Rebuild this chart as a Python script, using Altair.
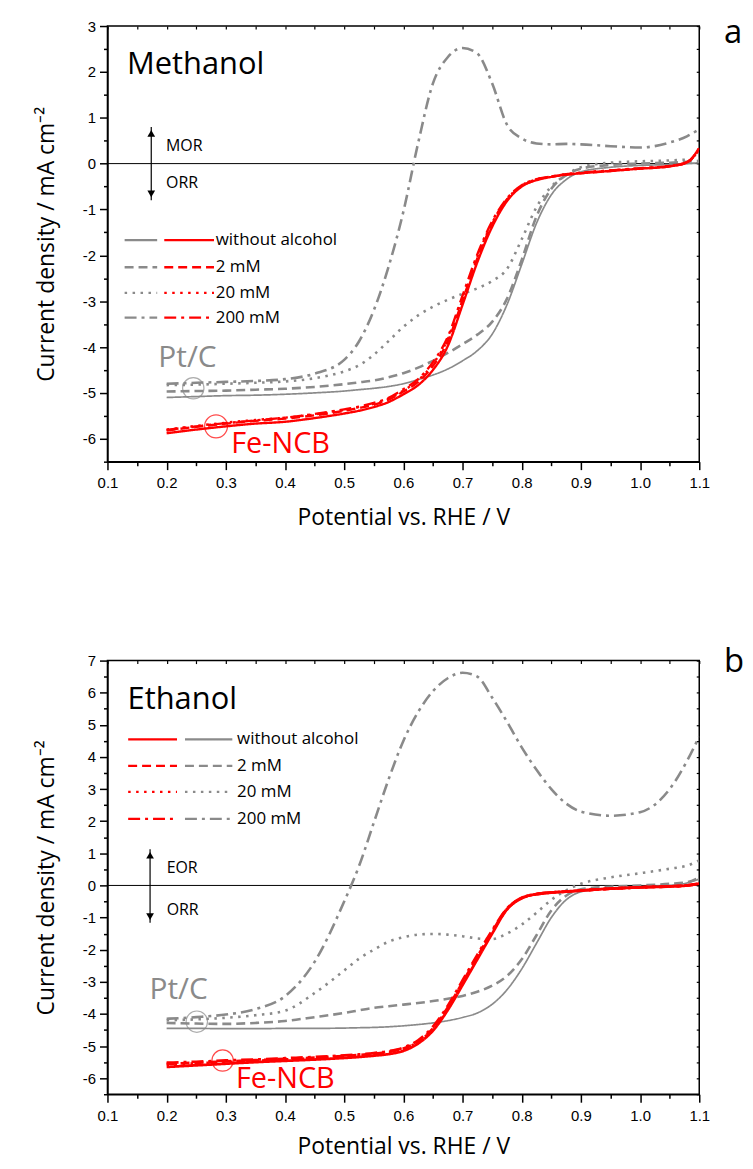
import altair as alt
import pandas as pd

# ---------------- data ----------------
CONCS = ["without alcohol", "2 mM", "20 mM", "200 mM"]
CATALYSTS = ["Pt/C", "Fe-NCB"]

POTENTIAL = [0.20, 0.25, 0.30, 0.35, 0.40, 0.45, 0.50, 0.525, 0.55, 0.575, 0.60, 0.625, 0.65, 0.675,
             0.70, 0.725, 0.75, 0.775, 0.80, 0.825, 0.85, 0.875, 0.90, 0.95, 1.00, 1.05, 1.08, 1.10]

# Methanol, Pt/C
MEOH_PT_0 = [-5.10, -5.08, -5.06, -5.05, -5.03, -5.00, -4.96, -4.93, -4.90, -4.86, -4.80, -4.71, -4.61, -4.48,
             -4.30, -4.08, -3.72, -3.08, -2.20, -1.30, -0.68, -0.35, -0.18, -0.08, -0.04, -0.02, 0.00, 0.02]
MEOH_PT_2 = [-4.97, -4.96, -4.95, -4.93, -4.91, -4.87, -4.81, -4.77, -4.73, -4.66, -4.57, -4.45, -4.30, -4.13,
             -3.94, -3.73, -3.45, -2.95, -2.10, -1.15, -0.55, -0.25, -0.11, -0.03, 0.00, 0.02, 0.04, 0.06]
MEOH_PT_20 = [-4.83, -4.82, -4.80, -4.78, -4.75, -4.68, -4.53, -4.40, -4.17, -3.87, -3.56, -3.31, -3.12, -2.97,
              -2.84, -2.72, -2.56, -2.30, -1.65, -0.95, -0.50, -0.25, -0.08, 0.02, 0.05, 0.07, 0.09, 0.12]
MEOH_PT_200 = [-4.80, -4.78, -4.76, -4.74, -4.70, -4.58, -4.28, -3.88, -3.20, -2.25, -1.05, 0.45, 1.75, 2.32,
               2.52, 2.40, 1.75, 0.85, 0.55, 0.44, 0.42, 0.43, 0.42, 0.38, 0.35, 0.46, 0.60, 0.75]
# Methanol, Fe-NCB
MEOH_FE_0 = [-5.88, -5.80, -5.73, -5.67, -5.63, -5.55, -5.45, -5.39, -5.31, -5.20, -5.03, -4.83, -4.50, -3.98,
             -3.08, -2.15, -1.38, -0.82, -0.50, -0.36, -0.29, -0.24, -0.21, -0.16, -0.11, -0.06, 0.03, 0.35]
MEOH_FE_2 = [-5.82, -5.74, -5.67, -5.61, -5.56, -5.49, -5.39, -5.33, -5.26, -5.15, -4.97, -4.76, -4.41, -3.88,
             -2.98, -2.07, -1.32, -0.79, -0.49, -0.35, -0.29, -0.24, -0.21, -0.16, -0.11, -0.06, 0.03, 0.33]
MEOH_FE_20 = [-5.80, -5.72, -5.65, -5.59, -5.54, -5.47, -5.37, -5.31, -5.24, -5.13, -4.95, -4.73, -4.37, -3.83,
              -2.93, -2.03, -1.29, -0.78, -0.48, -0.34, -0.28, -0.23, -0.20, -0.15, -0.10, -0.05, 0.04, 0.30]
MEOH_FE_200 = [-5.81, -5.73, -5.66, -5.60, -5.54, -5.46, -5.36, -5.30, -5.22, -5.11, -4.92, -4.70, -4.33, -3.78,
               -2.88, -1.98, -1.26, -0.76, -0.47, -0.34, -0.28, -0.23, -0.20, -0.15, -0.10, -0.05, 0.04, 0.30]

# Ethanol, Pt/C
ETOH_PT_0 = [-4.45, -4.45, -4.46, -4.46, -4.45, -4.45, -4.44, -4.43, -4.42, -4.40, -4.37, -4.33, -4.28, -4.21,
             -4.11, -3.97, -3.70, -3.25, -2.60, -1.80, -1.00, -0.45, -0.20, -0.08, -0.04, 0.00, 0.08, 0.20]
ETOH_PT_2 = [-4.28, -4.30, -4.31, -4.28, -4.22, -4.10, -3.97, -3.89, -3.81, -3.76, -3.71, -3.66, -3.60, -3.53,
             -3.44, -3.31, -3.12, -2.82, -2.30, -1.55, -0.78, -0.32, -0.12, -0.04, 0.00, 0.05, 0.10, 0.25]
ETOH_PT_20 = [-4.20, -4.17, -4.12, -4.04, -3.90, -3.35, -2.65, -2.28, -2.00, -1.75, -1.61, -1.53, -1.51, -1.53,
              -1.58, -1.65, -1.67, -1.50, -1.22, -0.85, -0.45, -0.15, 0.05, 0.25, 0.38, 0.52, 0.62, 0.78]
ETOH_PT_200 = [-4.15, -4.10, -4.02, -3.85, -3.45, -2.38, -0.50, 0.60, 1.95, 3.30, 4.50, 5.40, 6.05, 6.45,
               6.62, 6.50, 5.85, 5.10, 4.30, 3.60, 3.00, 2.55, 2.30, 2.17, 2.28, 3.00, 3.90, 4.64]
# Ethanol, Fe-NCB
ETOH_FE_0 = [-5.65, -5.60, -5.55, -5.50, -5.46, -5.42, -5.37, -5.34, -5.30, -5.25, -5.15, -4.92, -4.52, -3.88,
             -3.10, -2.30, -1.50, -0.75, -0.40, -0.27, -0.22, -0.19, -0.16, -0.10, -0.06, -0.03, 0.00, 0.06]
ETOH_FE_2 = [-5.55, -5.52, -5.48, -5.44, -5.40, -5.36, -5.31, -5.28, -5.24, -5.18, -5.08, -4.86, -4.45, -3.80,
             -3.02, -2.22, -1.44, -0.73, -0.39, -0.27, -0.22, -0.19, -0.16, -0.10, -0.06, -0.03, 0.00, 0.06]
ETOH_FE_20 = [-5.58, -5.54, -5.50, -5.46, -5.42, -5.38, -5.33, -5.30, -5.26, -5.20, -5.10, -4.87, -4.47, -3.82,
              -3.04, -2.24, -1.46, -0.74, -0.39, -0.27, -0.22, -0.19, -0.16, -0.10, -0.06, -0.03, 0.00, 0.06]
ETOH_FE_200 = [-5.52, -5.49, -5.45, -5.42, -5.38, -5.34, -5.29, -5.26, -5.22, -5.16, -5.05, -4.82, -4.40, -3.75,
               -2.96, -2.16, -1.40, -0.72, -0.38, -0.27, -0.22, -0.19, -0.16, -0.10, -0.06, -0.03, 0.00, 0.06]

X_MAJOR = [0.1, 0.2, 0.3, 0.4, 0.5, 0.6, 0.7, 0.8, 0.9, 1.0, 1.1]
X_MINOR = [0.15, 0.25, 0.35, 0.45, 0.55, 0.65, 0.75, 0.85, 0.95, 1.05]
MEOH_Y_MAJOR = [-6, -5, -4, -3, -2, -1, 0, 1, 2, 3]
MEOH_Y_MINOR = [-6.5, -5.5, -4.5, -3.5, -2.5, -1.5, -0.5, 0.5, 1.5, 2.5]
ETOH_Y_MAJOR = [-6, -5, -4, -3, -2, -1, 0, 1, 2, 3, 4, 5, 6, 7]
ETOH_Y_MINOR = [-6.5, -5.5, -4.5, -3.5, -2.5, -1.5, -0.5, 0.5, 1.5, 2.5, 3.5, 4.5, 5.5, 6.5]

# ---------------- styling ----------------
GRAY = "#8a8a8a"
RED = "#ff0000"
TEXT_FONT = "Open Sans"
TICK_FONT = "Liberation Sans"
PANEL_W = 595

X_SCALE = alt.Scale(domain=[0.1, 1.1], nice=False, zero=False)
COLOR_SCALE = alt.Scale(domain=CATALYSTS, range=[GRAY, RED])
DASH_SCALE = alt.Scale(domain=CONCS, range=[[1, 0], [9, 5], [2.5, 5.5], [12, 5, 3, 5]])


def curves_frame(series):
    rows = []
    for cat, conc, ys in series:
        for x, y in zip(POTENTIAL, ys):
            rows.append({"potential": x, "current": y, "catalyst": cat, "conc": conc})
    return pd.DataFrame(rows)


def y_scale(dom):
    return alt.Scale(domain=dom, nice=False, zero=False)


def axis_layer(ys, ydom, xaxis, yaxis):
    df = pd.DataFrame({"potential": [0.1, 1.1], "current": ydom})
    return alt.Chart(df).mark_point(opacity=0).encode(
        x=alt.X("potential:Q", scale=X_SCALE, axis=xaxis),
        y=alt.Y("current:Q", scale=ys, axis=yaxis),
    )


def text_layer(df, ys, size, color, align="left"):
    return alt.Chart(df).mark_text(align=align, baseline="middle", font=TEXT_FONT, fontSize=size,
                                   color=color, clip=False).encode(
        x=alt.X("x:Q", scale=X_SCALE, axis=None),
        y=alt.Y("y:Q", scale=ys, axis=None),
        text="text:N",
    )


def build_panel(series, ydom, y_major, y_minor, height, cfg):
    ys = y_scale(ydom)
    df = curves_frame(series)

    enc = dict(
        x=alt.X("potential:Q", scale=X_SCALE, axis=None),
        y=alt.Y("current:Q", scale=ys, axis=None),
        color=alt.Color("catalyst:N", scale=COLOR_SCALE, legend=None),
        strokeDash=alt.StrokeDash("conc:N", scale=DASH_SCALE, legend=None),
        detail="conc:N",
    )
    base = alt.Chart(df)
    gray_solid = base.transform_filter(
        (alt.datum.catalyst == "Pt/C") & (alt.datum.conc == "without alcohol")
    ).mark_line(interpolate="monotone", strokeWidth=1.7, clip=True).encode(**enc)
    gray_other = base.transform_filter(
        (alt.datum.catalyst == "Pt/C") & (alt.datum.conc != "without alcohol")
    ).mark_line(interpolate="monotone", strokeWidth=2.6, clip=True).encode(**enc)
    red = base.transform_filter(alt.datum.catalyst == "Fe-NCB").mark_line(
        interpolate="monotone", strokeWidth=cfg["red_width"], clip=True).encode(**enc)

    zero = alt.Chart(pd.DataFrame({"v": [0]})).mark_rule(color="black", strokeWidth=1).encode(
        y=alt.Y("v:Q", scale=ys, axis=None))

    # axes
    x_major = alt.Axis(values=X_MAJOR, format=".1f", orient="bottom", tickSize=8, tickWidth=1.5,
                       tickColor="black", domainColor="black", domainWidth=1.5, labelFont=TICK_FONT,
                       labelFontSize=15, labelColor="black", labelPadding=6, labelFlush=False,
                       labelOverlap=False, title="Potential vs. RHE / V", titleFont=TEXT_FONT,
                       titleFontSize=23, titleFontWeight="normal", titleColor="black",
                       titlePadding=cfg["xtitle_pad"], grid=False)
    y_major_ax = alt.Axis(values=y_major, labelExpr="'' + datum.value", orient="left", tickSize=8,
                          tickWidth=1.5, tickColor="black", domainColor="black", domainWidth=1.5,
                          labelFont=TICK_FONT, labelFontSize=15, labelColor="black", labelPadding=4,
                          labelFlush=False, labelOverlap=False,
                          title="Current density / mA cm\u207b\u00b2", titleFont=TEXT_FONT,
                          titleFontSize=23, titleFontWeight="normal", titleColor="black",
                          titlePadding=24, grid=False)
    x_minor = alt.Axis(values=X_MINOR, orient="bottom", tickSize=4, tickWidth=1.5, tickColor="black",
                       labels=False, domain=False, grid=False, title=None)
    y_minor_ax = alt.Axis(values=y_minor, orient="left", tickSize=4, tickWidth=1.5, tickColor="black",
                          labels=False, domain=False, grid=False, title=None)
    x_top = alt.Axis(values=X_MAJOR + X_MINOR, orient="top", tickSize=3, tickWidth=1.2, tickColor="black",
                     labels=False, domain=False, grid=False, title=None, offset=-3)
    y_right = alt.Axis(values=y_major + y_minor, orient="right", tickSize=3, tickWidth=1.2,
                       tickColor="black", labels=False, domain=False, grid=False, title=None, offset=-3)

    ax1 = axis_layer(ys, ydom, x_major, y_major_ax)
    ax2 = axis_layer(ys, ydom, x_minor, y_minor_ax)
    ax3 = axis_layer(ys, ydom, x_top, y_right)

    # legend (drawn inside the plot)
    leg_rows = []
    for conc, ly in zip(CONCS, cfg["legend_y"]):
        for cat in CATALYSTS:
            x1, x2 = cfg["legend_x"][cat]
            leg_rows.append({"x1": x1, "x2": x2, "y": ly, "catalyst": cat, "conc": conc})
    leg_df = pd.DataFrame(leg_rows)
    leg_lines = alt.Chart(leg_df).mark_rule(strokeWidth=2.3, clip=False).encode(
        x=alt.X("x1:Q", scale=X_SCALE, axis=None), x2="x2:Q",
        y=alt.Y("y:Q", scale=ys, axis=None),
        color=alt.Color("catalyst:N", scale=COLOR_SCALE, legend=None),
        strokeDash=alt.StrokeDash("conc:N", scale=DASH_SCALE, legend=None),
    )
    leg_text = text_layer(pd.DataFrame({"x": [cfg["legend_text_x"]] * 4, "y": cfg["legend_y"], "text": CONCS}),
                          ys, 17, "black")

    # annotations
    title_txt = text_layer(pd.DataFrame([cfg["title"]]), ys, 31, "black")
    letter_txt = text_layer(pd.DataFrame([cfg["letter"]]), ys, 33, "black")
    react_txt = text_layer(pd.DataFrame(cfg["react"]), ys, 16, "black")
    pt_txt = text_layer(pd.DataFrame([cfg["pt_label"]]), ys, 30, GRAY)
    fe_txt = text_layer(pd.DataFrame([cfg["fe_label"]]), ys, 29, RED)

    circ_df = pd.DataFrame(cfg["circles"])
    circles = alt.Chart(circ_df).mark_point(shape="circle", filled=False, strokeWidth=1.2, clip=False).encode(
        x=alt.X("x:Q", scale=X_SCALE, axis=None),
        y=alt.Y("y:Q", scale=ys, axis=None),
        color=alt.Color("catalyst:N", scale=COLOR_SCALE, legend=None),
        size=alt.Size("s:Q", scale=None, legend=None),
    )

    ax_x, ay1, ay2 = cfg["arrow"]
    arrow_line = alt.Chart(pd.DataFrame({"x": [ax_x], "y1": [ay1], "y2": [ay2]})).mark_rule(
        color="black", strokeWidth=1.2).encode(
        x=alt.X("x:Q", scale=X_SCALE, axis=None),
        y=alt.Y("y1:Q", scale=ys, axis=None), y2="y2:Q")
    head_df = pd.DataFrame({"x": [ax_x, ax_x], "y": cfg["heads"], "shape": ["triangle-up", "triangle-down"]})
    arrow_heads = alt.Chart(head_df).mark_point(filled=True, color="black", size=60, opacity=1).encode(
        x=alt.X("x:Q", scale=X_SCALE, axis=None),
        y=alt.Y("y:Q", scale=ys, axis=None),
        shape=alt.Shape("shape:N", scale=None, legend=None))

    return alt.layer(
        ax1, ax2, ax3, zero, gray_solid, gray_other, red, leg_lines, leg_text,
        title_txt, letter_txt, react_txt, pt_txt, fe_txt, circles, arrow_line, arrow_heads,
    ).resolve_axis(x="independent", y="independent").properties(width=PANEL_W, height=height)


meoh_series = [
    ("Pt/C", "without alcohol", MEOH_PT_0), ("Pt/C", "2 mM", MEOH_PT_2),
    ("Pt/C", "20 mM", MEOH_PT_20), ("Pt/C", "200 mM", MEOH_PT_200),
    ("Fe-NCB", "without alcohol", MEOH_FE_0), ("Fe-NCB", "2 mM", MEOH_FE_2),
    ("Fe-NCB", "20 mM", MEOH_FE_20), ("Fe-NCB", "200 mM", MEOH_FE_200),
]
etoh_series = [
    ("Pt/C", "without alcohol", ETOH_PT_0), ("Pt/C", "2 mM", ETOH_PT_2),
    ("Pt/C", "20 mM", ETOH_PT_20), ("Pt/C", "200 mM", ETOH_PT_200),
    ("Fe-NCB", "without alcohol", ETOH_FE_0), ("Fe-NCB", "2 mM", ETOH_FE_2),
    ("Fe-NCB", "20 mM", ETOH_FE_20), ("Fe-NCB", "200 mM", ETOH_FE_200),
]

meoh_cfg = {
    "xtitle_pad": 16,
    "red_width": 2.4,
    "legend_y": [-1.67, -2.26, -2.82, -3.36],
    "legend_x": {"Pt/C": (0.129, 0.184), "Fe-NCB": (0.196, 0.280)},
    "legend_text_x": 0.283,
    "title": {"x": 0.133, "y": 2.15, "text": "Methanol"},
    "letter": {"x": 1.142, "y": 2.84, "text": "a"},
    "react": [{"x": 0.199, "y": 0.39, "text": "MOR"}, {"x": 0.199, "y": -0.43, "text": "ORR"}],
    "pt_label": {"x": 0.186, "y": -4.23, "text": "Pt/C"},
    "fe_label": {"x": 0.309, "y": -6.12, "text": "Fe-NCB"},
    "circles": [{"x": 0.245, "y": -4.90, "catalyst": "Pt/C", "s": 460},
                {"x": 0.2835, "y": -5.73, "catalyst": "Fe-NCB", "s": 530}],
    "arrow": (0.174, 0.80, -0.80),
    "heads": [0.66, -0.66],
}
etoh_cfg = {
    "xtitle_pad": 13,
    "red_width": 2.8,
    "legend_y": [4.55, 3.72, 2.91, 2.07],
    "legend_x": {"Fe-NCB": (0.135, 0.2175), "Pt/C": (0.231, 0.311)},
    "legend_text_x": 0.319,
    "title": {"x": 0.134, "y": 5.78, "text": "Ethanol"},
    "letter": {"x": 1.142, "y": 6.95, "text": "b"},
    "react": [{"x": 0.200, "y": 0.53, "text": "EOR"}, {"x": 0.200, "y": -0.77, "text": "ORR"}],
    "pt_label": {"x": 0.171, "y": -3.25, "text": "Pt/C"},
    "fe_label": {"x": 0.317, "y": -6.04, "text": "Fe-NCB"},
    "circles": [{"x": 0.251, "y": -4.24, "catalyst": "Pt/C", "s": 460},
                {"x": 0.2946, "y": -5.45, "catalyst": "Fe-NCB", "s": 460}],
    "arrow": (0.172, 1.13, -1.16),
    "heads": [0.94, -0.97],
}

top = build_panel(meoh_series, [-6.5, 3], MEOH_Y_MAJOR, MEOH_Y_MINOR, 438, meoh_cfg)
bottom = build_panel(etoh_series, [-6.5, 7], ETOH_Y_MAJOR, ETOH_Y_MINOR, 436, etoh_cfg)

chart = alt.vconcat(top, bottom, spacing=115).properties(
    padding={"left": 26, "top": 5, "right": 0, "bottom": 0}
).configure_view(stroke="black", strokeWidth=1.5)

chart.save("out.html", embed_options={"renderer": "svg", "actions": False})
